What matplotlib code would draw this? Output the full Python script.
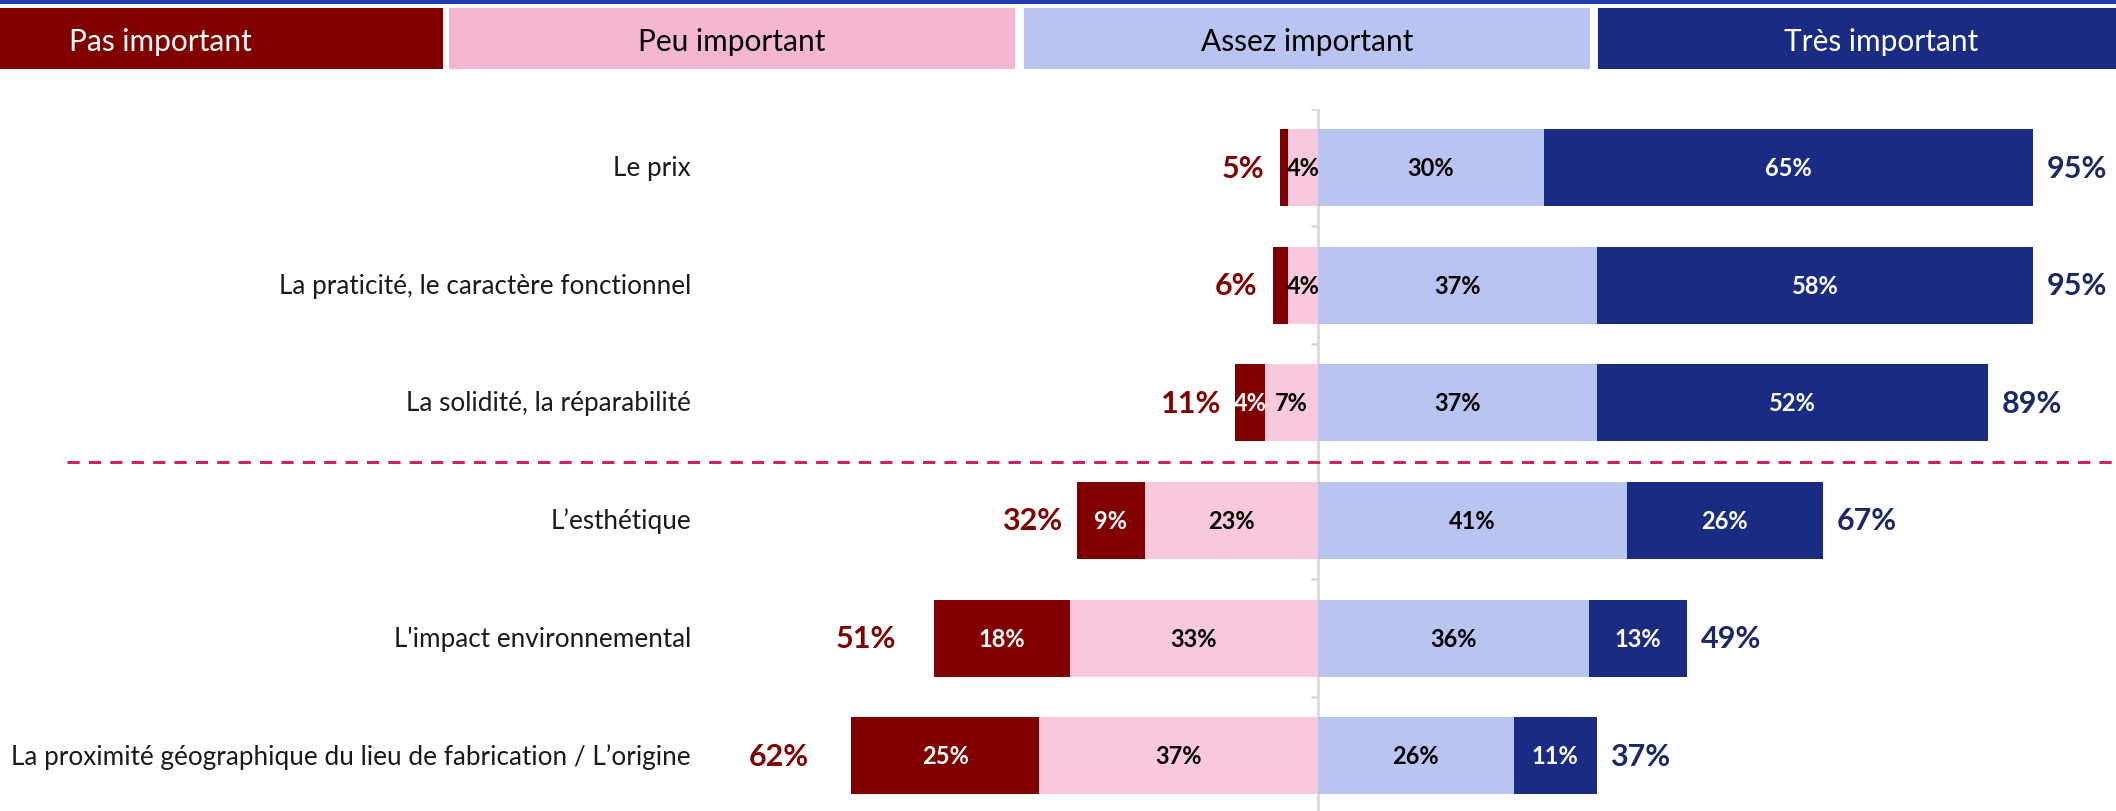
import matplotlib as mpl
mpl.use('Agg')
import matplotlib.pyplot as plt
import matplotlib.transforms as mtransforms
from matplotlib.patches import Rectangle
from matplotlib.lines import Line2D

plt.rcParams['font.family'] = ['Lato', 'DejaVu Sans']

categories = [
    "Le prix",
    "La praticité, le caractère fonctionnel",
    "La solidité, la réparabilité",
    "L\u2019esthétique",
    "L'impact environnemental",
    "La proximité géographique du lieu de fabrication / L\u2019origine",
]
pas_important = [1, 2, 4, 9, 18, 25]
peu_important = [4, 4, 7, 23, 33, 37]
assez_important = [30, 37, 37, 41, 36, 26]
tres_important = [65, 58, 52, 26, 13, 11]
total_pas = [5, 6, 11, 32, 51, 62]
total_important = [95, 95, 89, 67, 49, 37]
legend_labels = ["Pas important", "Peu important", "Assez important", "Très important"]

c_pas = '#800000'
c_peu = '#F8C9DD'
c_assez = '#B9C5F0'
c_tres = '#1A2B84'

W, H = 2116, 812
fig = plt.figure(figsize=(W / 100, H / 100), dpi=100)

# axes spans full width; zero at x=1318 px, 1% = 7.53 px
px_per = 7.53
x0 = 1318
ax = fig.add_axes([0, (H - 815.4) / H, 1, (815.4 - 109.9) / H])
ax.set_xlim(-x0 / px_per, (W - x0) / px_per)
ax.set_ylim(5.5, -0.5)
ax.axis('off')

y = list(range(len(categories)))
bh = 0.655
left_pas = [-(a + b) for a, b in zip(pas_important, peu_important)]
left_peu = [-b for b in peu_important]
ax.barh(y, pas_important, left=left_pas, height=bh, color=c_pas)
ax.barh(y, peu_important, left=left_peu, height=bh, color=c_peu)
ax.barh(y, assez_important, left=0, height=bh, color=c_assez)
ax.barh(y, tres_important, left=assez_important, height=bh, color=c_tres)

# zero line and small ticks
ax.axvline(0, color='#D9D9D9', lw=2, zorder=0)
bounds = [i - 0.5 for i in range(len(categories) + 1)]
ax.hlines(bounds, -0.9, 0, color='#D9D9D9', lw=2, zorder=0)

lab_kw = dict(ha='center', va='center', fontsize=17, fontweight='bold')
for i in y:
    if pas_important[i] >= 3:
        ax.text(left_pas[i] + pas_important[i] / 2, i, f"{pas_important[i]}%", color='white', **lab_kw)
    ax.text(left_peu[i] + peu_important[i] / 2, i, f"{peu_important[i]}%", color='black', **lab_kw)
    ax.text(assez_important[i] / 2, i, f"{assez_important[i]}%", color='black', **lab_kw)
    ax.text(assez_important[i] + tres_important[i] / 2, i, f"{tres_important[i]}%", color='white', **lab_kw)

# totals
left_gap = [16, 16, 14, 15, 38, 42]
for i in y:
    ax.annotate(f"{total_pas[i]}%", (left_pas[i], i), xytext=(-left_gap[i] * 0.72, 0),
                textcoords='offset points', ha='right', va='center',
                fontsize=22, fontweight='bold', color=c_pas)
    ax.annotate(f"{total_important[i]}%", (assez_important[i] + tres_important[i], i),
                xytext=(10, 0), textcoords='offset points', ha='left', va='center',
                fontsize=22, fontweight='bold', color='#1A2868')

# category labels
trans = mtransforms.blended_transform_factory(fig.transFigure, ax.transData)
for i, cat in enumerate(categories):
    ax.text(691 / W, i, cat, transform=trans, ha='right', va='center', fontsize=18.8, color='#1a1a1a')

# dashed separator
fig.add_artist(Line2D([67 / W, 1], [2.5, 2.5], transform=trans, color='#CC2266',
                      lw=2.2, ls=(0, (4, 3))))

# header
fig.add_artist(Rectangle((0, (H - 5) / H), 1, 5 / H, transform=fig.transFigure,
                         color='#2239B2', lw=0))
boxes = [(-123, 443), (449, 1015), (1024, 1590), (1598, 2164)]
hdr_colors = ['#800000', '#F5B6D2', '#B9C5F0', '#1A2B84']
hdr_text_colors = ['white', 'black', 'black', 'white']
for (l, r), c, tc, lab in zip(boxes, hdr_colors, hdr_text_colors, legend_labels):
    fig.add_artist(Rectangle((l / W, (H - 70) / H), (r - l) / W, 61 / H,
                             transform=fig.transFigure, color=c, lw=0))
    fig.text((l + r) / 2 / W, (H - 42) / H, lab, ha='center', va='center', fontsize=21.5, color=tc)

fig.savefig('out.png', dpi=100)
